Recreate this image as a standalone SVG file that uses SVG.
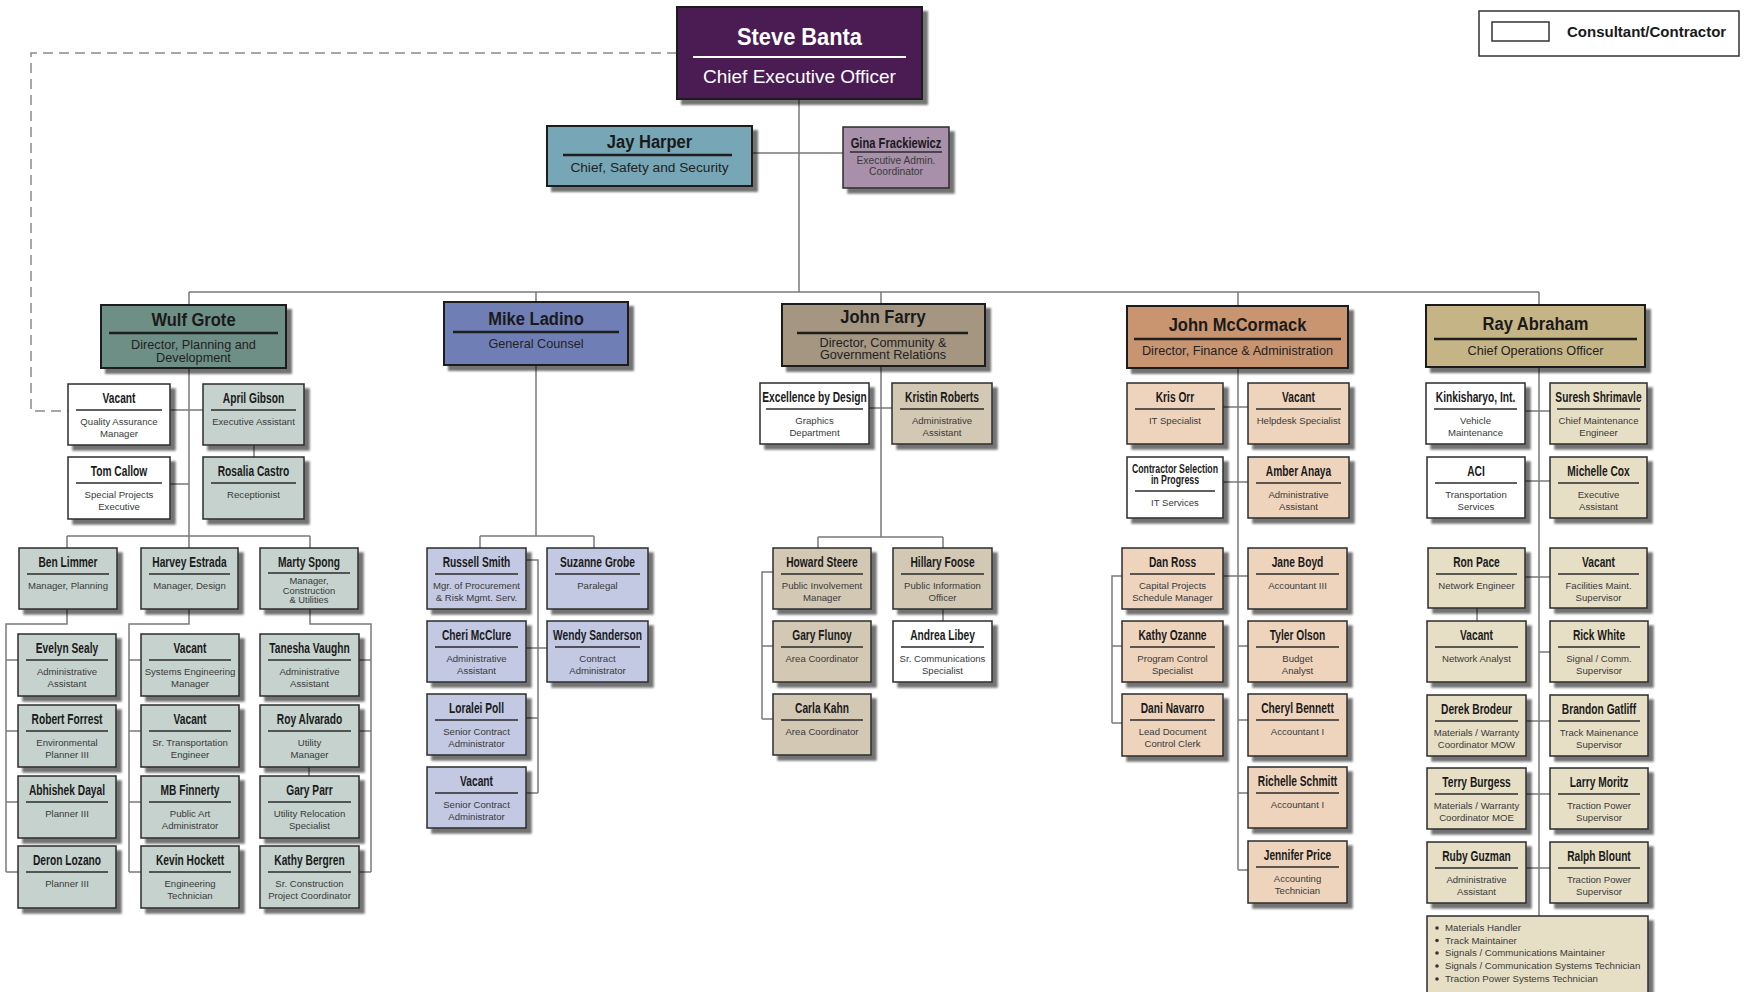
<svg xmlns="http://www.w3.org/2000/svg" width="1744" height="992" viewBox="0 0 1744 992">
<defs>
<filter id="sh" x="-10%" y="-10%" width="130%" height="140%">
<feGaussianBlur in="SourceAlpha" stdDeviation="1.3"/>
<feOffset dx="5" dy="5" result="o"/>
<feComponentTransfer><feFuncA type="linear" slope="0.55"/></feComponentTransfer>
<feMerge><feMergeNode/><feMergeNode in="SourceGraphic"/></feMerge>
</filter>
</defs>
<style>
.bx{stroke:#2b2b2b;stroke-width:1.5;filter:url(#sh)}
.db{stroke-width:2;stroke:#1e1e1e}
.nm{font-family:"Liberation Sans",Arial,sans-serif;font-weight:700;font-size:14px;text-anchor:middle;fill:#1a1a1a}
.dn{font-size:19px}
.sb{font-family:"Liberation Sans",Arial,sans-serif;font-size:9.6px;text-anchor:middle;fill:#3a3a3a}
.ds{font-size:12.7px;fill:#222}
.sp{stroke:#2b2b2b;stroke-width:1.4}
.dsp{stroke:#1e1e1e;stroke-width:2.4}
.cn{stroke:#7a7a7a;stroke-width:1.5;fill:none}
.dash{stroke:#8a8a8a;stroke-width:1.5;fill:none;stroke-dasharray:10 6}
.w{fill:#ffffff}
.ceo{fill:#4c1e53}
.jay{fill:#77a6b6}
.gina{fill:#a890aa}
.wg{fill:#6e8f86}.wl{fill:#c5d2ce}
.mg{fill:#6f7eb6}.ml{fill:#c3c8e3}
.fg{fill:#a49681}.fl{fill:#d3c8b4}
.cg{fill:#c9956f}.cl{fill:#eed4bd}
.rg{fill:#c5b586}.rl{fill:#e7dfc5}
.lg{font-family:"Liberation Sans",Arial,sans-serif;font-weight:700;font-size:15px;fill:#1a1a1a}
.bl{font-family:"Liberation Sans",Arial,sans-serif;font-size:9.7px;fill:#3a3a3a}
</style>
<rect width="1744" height="992" fill="#ffffff"/>

<g id="connectors">
<path class="dash" d="M677 53H31V411H68"/>
<path class="cn" d="M799 99V292M752 153H843M189 292H1539M189 292V305M536 292V302M881 292V304M1238 292V306M1539 292V305"/>
<path class="cn" d="M189 368V536M170 410H203M170 484H189M254 445V457M67 536H310M67 536V548M189 536V548M310 536V548"/>
<path class="cn" d="M67 609V624H6V872M6 660H18M6 731H18M6 802H18M6 872H18"/>
<path class="cn" d="M189 609V624H129V872M129 660H141M129 731H141M129 802H141M129 872H141"/>
<path class="cn" d="M310 609V624H371V872M359 660H371M359 731H371M359 872H371M309 767V776"/>
<path class="cn" d="M536 365V536M480 536H594M480 536V548M594 536V548M526 560H538V793M526 648H547M526 718H538M526 793H538"/>
<path class="cn" d="M881 366V537M869 408H892M818 537H943M818 537V548M943 537V548M943 609V621M773 572H762V719M762 646H773M762 719H773"/>
<path class="cn" d="M1238 368V870M1223 407H1248M1223 482H1248M1223 576H1248M1122 576H1112V723M1112 646H1122M1112 723H1122M1238 646H1248M1238 720H1248M1238 793H1248M1238 870H1248"/>
<path class="cn" d="M1539 367V916M1525 411H1550M1525 481H1550M1525 577H1550M1477 608V621M1539 652H1550M1526 721H1550M1526 794H1550M1526 868H1550"/>
</g>

<g id="legend">
<rect x="1479" y="11" width="260" height="45" fill="#fff" stroke="#333" stroke-width="1.5"/>
<rect x="1492" y="22" width="57" height="19" fill="#fff" stroke="#333" stroke-width="1.5"/>
<text class="lg" x="1567" y="37">Consultant/Contractor</text>
</g>

<g id="steve-banta">
<rect class="bx db ceo" x="677" y="7" width="245" height="92"/>
<text class="nm" style="font-size:23px;fill:#fff" transform="translate(799.5 45) scale(.95 1)">Steve Banta</text>
<line x1="693" y1="57" x2="906" y2="57" stroke="#fff" stroke-width="2"/>
<text class="sb" style="font-size:19px;fill:#fff" x="799.5" y="83">Chief Executive Officer</text>
</g>

<g id="jay-harper">
<rect class="bx db jay" x="547" y="126" width="205" height="60"/>
<text class="nm dn" transform="translate(649.5 148) scale(.87 1)">Jay Harper</text>
<line class="dsp" x1="563" y1="155" x2="732" y2="155"/>
<text class="sb" style="font-size:13.7px;fill:#222" x="649.5" y="172">Chief, Safety and Security</text>
</g>

<g id="gina-frackiewicz">
<rect class="bx gina" x="843" y="127" width="106" height="61"/>
<text class="nm" style="font-size:15px" transform="translate(896 148) scale(.745 1)">Gina Frackiewicz</text>
<line class="sp" x1="850" y1="152" x2="942" y2="152"/>
<text class="sb" style="font-size:10.3px" x="896" y="164">Executive Admin.</text>
<text class="sb" style="font-size:10.3px" x="896" y="175">Coordinator</text>
</g>

<!-- Wulf Grote -->
<g id="wulf-grote">
<rect class="bx db wg" x="101" y="305" width="185" height="63"/>
<text class="nm dn" transform="translate(193.5 326) scale(.87 1)">Wulf Grote</text>
<line class="dsp" x1="109" y1="333" x2="278" y2="333"/>
<text class="sb ds" x="193.5" y="349">Director, Planning and</text>
<text class="sb ds" x="193.5" y="362">Development</text>
</g>
<g id="vacant-qa">
<rect class="bx w" x="68" y="384" width="102" height="61"/>
<text class="nm" transform="translate(119 403) scale(.73 1)">Vacant</text>
<line class="sp" x1="76" y1="410" x2="162" y2="410"/>
<text class="sb" x="119" y="425">Quality Assurance</text>
<text class="sb" x="119" y="437">Manager</text>
</g>
<g id="april-gibson">
<rect class="bx wl" x="203" y="384" width="101" height="61"/>
<text class="nm" transform="translate(253.5 403) scale(.73 1)">April Gibson</text>
<line class="sp" x1="211" y1="410" x2="296" y2="410"/>
<text class="sb" x="253.5" y="425">Executive Assistant</text>
</g>
<g id="tom-callow">
<rect class="bx w" x="68" y="457" width="102" height="62"/>
<text class="nm" transform="translate(119 476) scale(.73 1)">Tom Callow</text>
<line class="sp" x1="76" y1="483" x2="162" y2="483"/>
<text class="sb" x="119" y="498">Special Projects</text>
<text class="sb" x="119" y="510">Executive</text>
</g>
<g id="rosalia-castro">
<rect class="bx wl" x="203" y="457" width="101" height="62"/>
<text class="nm" transform="translate(253.5 476) scale(.73 1)">Rosalia Castro</text>
<line class="sp" x1="211" y1="483" x2="296" y2="483"/>
<text class="sb" x="253.5" y="498">Receptionist</text>
</g>
<g id="ben-limmer">
<rect class="bx wl" x="19" y="548" width="98" height="61"/>
<text class="nm" transform="translate(68 567) scale(.73 1)">Ben Limmer</text>
<line class="sp" x1="27" y1="574" x2="109" y2="574"/>
<text class="sb" x="68" y="589">Manager, Planning</text>
</g>
<g id="harvey-estrada">
<rect class="bx wl" x="141" y="548" width="97" height="61"/>
<text class="nm" transform="translate(189.5 567) scale(.73 1)">Harvey Estrada</text>
<line class="sp" x1="149" y1="574" x2="230" y2="574"/>
<text class="sb" x="189.5" y="589">Manager, Design</text>
</g>
<g id="marty-spong">
<rect class="bx wl" x="260" y="548" width="98" height="61"/>
<text class="nm" transform="translate(309 567) scale(.73 1)">Marty Spong</text>
<line class="sp" x1="268" y1="573" x2="350" y2="573"/>
<text class="sb" style="font-size:9.4px" x="309" y="584">Manager,</text>
<text class="sb" style="font-size:9.4px" x="309" y="594">Construction</text>
<text class="sb" style="font-size:9.4px" x="309" y="603">&amp; Utilities</text>
</g>
<g id="evelyn-sealy">
<rect class="bx wl" x="18" y="634" width="98" height="62"/>
<text class="nm" transform="translate(67 653) scale(.73 1)">Evelyn Sealy</text>
<line class="sp" x1="26" y1="660" x2="108" y2="660"/>
<text class="sb" x="67" y="675">Administrative</text>
<text class="sb" x="67" y="687">Assistant</text>
</g>
<g id="robert-forrest">
<rect class="bx wl" x="18" y="705" width="98" height="62"/>
<text class="nm" transform="translate(67 724) scale(.73 1)">Robert Forrest</text>
<line class="sp" x1="26" y1="731" x2="108" y2="731"/>
<text class="sb" x="67" y="746">Environmental</text>
<text class="sb" x="67" y="758">Planner III</text>
</g>
<g id="abhishek-dayal">
<rect class="bx wl" x="18" y="776" width="98" height="62"/>
<text class="nm" transform="translate(67 795) scale(.73 1)">Abhishek Dayal</text>
<line class="sp" x1="26" y1="802" x2="108" y2="802"/>
<text class="sb" x="67" y="817">Planner III</text>
</g>
<g id="deron-lozano">
<rect class="bx wl" x="18" y="846" width="98" height="62"/>
<text class="nm" transform="translate(67 865) scale(.73 1)">Deron Lozano</text>
<line class="sp" x1="26" y1="872" x2="108" y2="872"/>
<text class="sb" x="67" y="887">Planner III</text>
</g>
<g id="vacant-sys-eng">
<rect class="bx wl" x="141" y="634" width="98" height="62"/>
<text class="nm" transform="translate(190 653) scale(.73 1)">Vacant</text>
<line class="sp" x1="149" y1="660" x2="231" y2="660"/>
<text class="sb" x="190" y="675">Systems Engineering</text>
<text class="sb" x="190" y="687">Manager</text>
</g>
<g id="vacant-transport">
<rect class="bx wl" x="141" y="705" width="98" height="62"/>
<text class="nm" transform="translate(190 724) scale(.73 1)">Vacant</text>
<line class="sp" x1="149" y1="731" x2="231" y2="731"/>
<text class="sb" x="190" y="746">Sr. Transportation</text>
<text class="sb" x="190" y="758">Engineer</text>
</g>
<g id="mb-finnerty">
<rect class="bx wl" x="141" y="776" width="98" height="62"/>
<text class="nm" transform="translate(190 795) scale(.73 1)">MB Finnerty</text>
<line class="sp" x1="149" y1="802" x2="231" y2="802"/>
<text class="sb" x="190" y="817">Public Art</text>
<text class="sb" x="190" y="829">Administrator</text>
</g>
<g id="kevin-hockett">
<rect class="bx wl" x="141" y="846" width="98" height="62"/>
<text class="nm" transform="translate(190 865) scale(.73 1)">Kevin Hockett</text>
<line class="sp" x1="149" y1="872" x2="231" y2="872"/>
<text class="sb" x="190" y="887">Engineering</text>
<text class="sb" x="190" y="899">Technician</text>
</g>
<g id="tanesha-vaughn">
<rect class="bx wl" x="260" y="634" width="99" height="62"/>
<text class="nm" transform="translate(309.5 653) scale(.73 1)">Tanesha Vaughn</text>
<line class="sp" x1="268" y1="660" x2="351" y2="660"/>
<text class="sb" x="309.5" y="675">Administrative</text>
<text class="sb" x="309.5" y="687">Assistant</text>
</g>
<g id="roy-alvarado">
<rect class="bx wl" x="260" y="705" width="99" height="62"/>
<text class="nm" transform="translate(309.5 724) scale(.73 1)">Roy Alvarado</text>
<line class="sp" x1="268" y1="731" x2="351" y2="731"/>
<text class="sb" x="309.5" y="746">Utility</text>
<text class="sb" x="309.5" y="758">Manager</text>
</g>
<g id="gary-parr">
<rect class="bx wl" x="260" y="776" width="99" height="62"/>
<text class="nm" transform="translate(309.5 795) scale(.73 1)">Gary Parr</text>
<line class="sp" x1="268" y1="802" x2="351" y2="802"/>
<text class="sb" x="309.5" y="817">Utility Relocation</text>
<text class="sb" x="309.5" y="829">Specialist</text>
</g>
<g id="kathy-bergren">
<rect class="bx wl" x="260" y="846" width="99" height="62"/>
<text class="nm" transform="translate(309.5 865) scale(.73 1)">Kathy Bergren</text>
<line class="sp" x1="268" y1="872" x2="351" y2="872"/>
<text class="sb" x="309.5" y="887">Sr. Construction</text>
<text class="sb" x="309.5" y="899">Project Coordinator</text>
</g>

<!-- Mike Ladino -->
<g id="mike-ladino">
<rect class="bx db mg" x="444" y="302" width="184" height="63"/>
<text class="nm dn" transform="translate(536 325) scale(.87 1)">Mike Ladino</text>
<line class="dsp" x1="453" y1="332" x2="619" y2="332"/>
<text class="sb ds" x="536" y="348">General Counsel</text>
</g>
<g id="russell-smith">
<rect class="bx ml" x="427" y="548" width="99" height="61"/>
<text class="nm" transform="translate(476.5 567) scale(.73 1)">Russell Smith</text>
<line class="sp" x1="435" y1="574" x2="518" y2="574"/>
<text class="sb" x="476.5" y="589">Mgr. of Procurement</text>
<text class="sb" x="476.5" y="601">&amp; Risk Mgmt. Serv.</text>
</g>
<g id="suzanne-grobe">
<rect class="bx ml" x="547" y="548" width="101" height="61"/>
<text class="nm" transform="translate(597.5 567) scale(.73 1)">Suzanne Grobe</text>
<line class="sp" x1="555" y1="574" x2="640" y2="574"/>
<text class="sb" x="597.5" y="589">Paralegal</text>
</g>
<g id="cheri-mcclure">
<rect class="bx ml" x="427" y="621" width="99" height="61"/>
<text class="nm" transform="translate(476.5 640) scale(.73 1)">Cheri McClure</text>
<line class="sp" x1="435" y1="647" x2="518" y2="647"/>
<text class="sb" x="476.5" y="662">Administrative</text>
<text class="sb" x="476.5" y="674">Assistant</text>
</g>
<g id="wendy-sanderson">
<rect class="bx ml" x="547" y="621" width="101" height="61"/>
<text class="nm" transform="translate(597.5 640) scale(.73 1)">Wendy Sanderson</text>
<line class="sp" x1="555" y1="647" x2="640" y2="647"/>
<text class="sb" x="597.5" y="662">Contract</text>
<text class="sb" x="597.5" y="674">Administrator</text>
</g>
<g id="loralei-poll">
<rect class="bx ml" x="427" y="694" width="99" height="61"/>
<text class="nm" transform="translate(476.5 713) scale(.73 1)">Loralei Poll</text>
<line class="sp" x1="435" y1="720" x2="518" y2="720"/>
<text class="sb" x="476.5" y="735">Senior Contract</text>
<text class="sb" x="476.5" y="747">Administrator</text>
</g>
<g id="vacant-sr-contract">
<rect class="bx ml" x="427" y="767" width="99" height="61"/>
<text class="nm" transform="translate(476.5 786) scale(.73 1)">Vacant</text>
<line class="sp" x1="435" y1="793" x2="518" y2="793"/>
<text class="sb" x="476.5" y="808">Senior Contract</text>
<text class="sb" x="476.5" y="820">Administrator</text>
</g>

<!-- John Farry -->
<g id="john-farry">
<rect class="bx db fg" x="782" y="304" width="203" height="62"/>
<text class="nm dn" transform="translate(883 323) scale(.87 1)">John Farry</text>
<line class="dsp" x1="797" y1="333" x2="968" y2="333"/>
<text class="sb ds" x="883" y="347">Director, Community &amp;</text>
<text class="sb ds" x="883" y="359">Government Relations</text>
</g>
<g id="excellence-by-design">
<rect class="bx w" x="760" y="383" width="109" height="61"/>
<text class="nm" transform="translate(814.5 402) scale(.73 1)">Excellence by Design</text>
<line class="sp" x1="766" y1="409" x2="863" y2="409"/>
<text class="sb" x="814.5" y="424">Graphics</text>
<text class="sb" x="814.5" y="436">Department</text>
</g>
<g id="kristin-roberts">
<rect class="bx fl" x="892" y="383" width="100" height="61"/>
<text class="nm" transform="translate(942 402) scale(.73 1)">Kristin Roberts</text>
<line class="sp" x1="900" y1="409" x2="984" y2="409"/>
<text class="sb" x="942" y="424">Administrative</text>
<text class="sb" x="942" y="436">Assistant</text>
</g>
<g id="howard-steere">
<rect class="bx fl" x="773" y="548" width="98" height="61"/>
<text class="nm" transform="translate(822 567) scale(.73 1)">Howard Steere</text>
<line class="sp" x1="781" y1="574" x2="863" y2="574"/>
<text class="sb" x="822" y="589">Public Involvement</text>
<text class="sb" x="822" y="601">Manager</text>
</g>
<g id="hillary-foose">
<rect class="bx fl" x="893" y="548" width="99" height="61"/>
<text class="nm" transform="translate(942.5 567) scale(.73 1)">Hillary Foose</text>
<line class="sp" x1="901" y1="574" x2="984" y2="574"/>
<text class="sb" x="942.5" y="589">Public Information</text>
<text class="sb" x="942.5" y="601">Officer</text>
</g>
<g id="andrea-libey">
<rect class="bx w" x="893" y="621" width="99" height="61"/>
<text class="nm" transform="translate(942.5 640) scale(.73 1)">Andrea Libey</text>
<line class="sp" x1="901" y1="647" x2="984" y2="647"/>
<text class="sb" x="942.5" y="662">Sr. Communications</text>
<text class="sb" x="942.5" y="674">Specialist</text>
</g>
<g id="gary-flunoy">
<rect class="bx fl" x="773" y="621" width="98" height="61"/>
<text class="nm" transform="translate(822 640) scale(.73 1)">Gary Flunoy</text>
<line class="sp" x1="781" y1="647" x2="863" y2="647"/>
<text class="sb" x="822" y="662">Area Coordinator</text>
</g>
<g id="carla-kahn">
<rect class="bx fl" x="773" y="694" width="98" height="61"/>
<text class="nm" transform="translate(822 713) scale(.73 1)">Carla Kahn</text>
<line class="sp" x1="781" y1="720" x2="863" y2="720"/>
<text class="sb" x="822" y="735">Area Coordinator</text>
</g>

<!-- John McCormack -->
<g id="john-mccormack">
<rect class="bx db cg" x="1127" y="306" width="221" height="62"/>
<text class="nm dn" transform="translate(1237.5 331) scale(.87 1)">John McCormack</text>
<line class="dsp" x1="1134" y1="339" x2="1341" y2="339"/>
<text class="sb ds" x="1237.5" y="355">Director, Finance &amp; Administration</text>
</g>
<g id="kris-orr">
<rect class="bx cl" x="1127" y="383" width="96" height="61"/>
<text class="nm" transform="translate(1175 402) scale(.73 1)">Kris Orr</text>
<line class="sp" x1="1135" y1="409" x2="1215" y2="409"/>
<text class="sb" x="1175" y="424">IT Specialist</text>
</g>
<g id="vacant-helpdesk">
<rect class="bx cl" x="1248" y="383" width="101" height="61"/>
<text class="nm" transform="translate(1298.5 402) scale(.73 1)">Vacant</text>
<line class="sp" x1="1256" y1="409" x2="1341" y2="409"/>
<text class="sb" x="1298.5" y="424">Helpdesk Specialist</text>
</g>
<g id="contractor-selection">
<rect class="bx w" x="1127" y="457" width="96" height="61"/>
<text class="nm" style="font-size:12px" transform="translate(1175 473) scale(.73 1)">Contractor Selection</text>
<text class="nm" style="font-size:12px" transform="translate(1175 484) scale(.73 1)">in Progress</text>
<line class="sp" x1="1135" y1="491" x2="1215" y2="491"/>
<text class="sb" x="1175" y="506">IT Services</text>
</g>
<g id="amber-anaya">
<rect class="bx cl" x="1248" y="457" width="101" height="61"/>
<text class="nm" transform="translate(1298.5 476) scale(.73 1)">Amber Anaya</text>
<line class="sp" x1="1256" y1="483" x2="1341" y2="483"/>
<text class="sb" x="1298.5" y="498">Administrative</text>
<text class="sb" x="1298.5" y="510">Assistant</text>
</g>
<g id="dan-ross">
<rect class="bx cl" x="1122" y="548" width="101" height="61"/>
<text class="nm" transform="translate(1172.5 567) scale(.73 1)">Dan Ross</text>
<line class="sp" x1="1130" y1="574" x2="1215" y2="574"/>
<text class="sb" x="1172.5" y="589">Capital Projects</text>
<text class="sb" x="1172.5" y="601">Schedule Manager</text>
</g>
<g id="jane-boyd">
<rect class="bx cl" x="1248" y="548" width="99" height="61"/>
<text class="nm" transform="translate(1297.5 567) scale(.73 1)">Jane Boyd</text>
<line class="sp" x1="1256" y1="574" x2="1339" y2="574"/>
<text class="sb" x="1297.5" y="589">Accountant III</text>
</g>
<g id="kathy-ozanne">
<rect class="bx cl" x="1122" y="621" width="101" height="61"/>
<text class="nm" transform="translate(1172.5 640) scale(.73 1)">Kathy Ozanne</text>
<line class="sp" x1="1130" y1="647" x2="1215" y2="647"/>
<text class="sb" x="1172.5" y="662">Program Control</text>
<text class="sb" x="1172.5" y="674">Specialist</text>
</g>
<g id="dani-navarro">
<rect class="bx cl" x="1122" y="694" width="101" height="62"/>
<text class="nm" transform="translate(1172.5 713) scale(.73 1)">Dani Navarro</text>
<line class="sp" x1="1130" y1="720" x2="1215" y2="720"/>
<text class="sb" x="1172.5" y="735">Lead Document</text>
<text class="sb" x="1172.5" y="747">Control Clerk</text>
</g>
<g id="tyler-olson">
<rect class="bx cl" x="1248" y="621" width="99" height="61"/>
<text class="nm" transform="translate(1297.5 640) scale(.73 1)">Tyler Olson</text>
<line class="sp" x1="1256" y1="647" x2="1339" y2="647"/>
<text class="sb" x="1297.5" y="662">Budget</text>
<text class="sb" x="1297.5" y="674">Analyst</text>
</g>
<g id="cheryl-bennett">
<rect class="bx cl" x="1248" y="694" width="99" height="62"/>
<text class="nm" transform="translate(1297.5 713) scale(.73 1)">Cheryl Bennett</text>
<line class="sp" x1="1256" y1="720" x2="1339" y2="720"/>
<text class="sb" x="1297.5" y="735">Accountant I</text>
</g>
<g id="richelle-schmitt">
<rect class="bx cl" x="1248" y="767" width="99" height="61"/>
<text class="nm" transform="translate(1297.5 786) scale(.73 1)">Richelle Schmitt</text>
<line class="sp" x1="1256" y1="793" x2="1339" y2="793"/>
<text class="sb" x="1297.5" y="808">Accountant I</text>
</g>
<g id="jennifer-price">
<rect class="bx cl" x="1248" y="841" width="99" height="62"/>
<text class="nm" transform="translate(1297.5 860) scale(.73 1)">Jennifer Price</text>
<line class="sp" x1="1256" y1="867" x2="1339" y2="867"/>
<text class="sb" x="1297.5" y="882">Accounting</text>
<text class="sb" x="1297.5" y="894">Technician</text>
</g>

<!-- Ray Abraham -->
<g id="ray-abraham">
<rect class="bx db rg" x="1426" y="305" width="219" height="62"/>
<text class="nm dn" transform="translate(1535.5 330) scale(.87 1)">Ray Abraham</text>
<line class="dsp" x1="1434" y1="339" x2="1637" y2="339"/>
<text class="sb ds" x="1535.5" y="355">Chief Operations Officer</text>
</g>
<g id="kinkisharyo">
<rect class="bx w" x="1426" y="383" width="99" height="61"/>
<text class="nm" transform="translate(1475.5 402) scale(.73 1)">Kinkisharyo, Int.</text>
<line class="sp" x1="1434" y1="409" x2="1517" y2="409"/>
<text class="sb" x="1475.5" y="424">Vehicle</text>
<text class="sb" x="1475.5" y="436">Maintenance</text>
</g>
<g id="suresh-shrimavle">
<rect class="bx rl" x="1550" y="383" width="97" height="61"/>
<text class="nm" transform="translate(1598.5 402) scale(.73 1)">Suresh Shrimavle</text>
<line class="sp" x1="1557" y1="409" x2="1640" y2="409"/>
<text class="sb" x="1598.5" y="424">Chief Maintenance</text>
<text class="sb" x="1598.5" y="436">Engineer</text>
</g>
<g id="aci">
<rect class="bx w" x="1427" y="457" width="98" height="61"/>
<text class="nm" transform="translate(1476 476) scale(.73 1)">ACI</text>
<line class="sp" x1="1435" y1="483" x2="1517" y2="483"/>
<text class="sb" x="1476" y="498">Transportation</text>
<text class="sb" x="1476" y="510">Services</text>
</g>
<g id="michelle-cox">
<rect class="bx rl" x="1550" y="457" width="97" height="61"/>
<text class="nm" transform="translate(1598.5 476) scale(.73 1)">Michelle Cox</text>
<line class="sp" x1="1558" y1="483" x2="1639" y2="483"/>
<text class="sb" x="1598.5" y="498">Executive</text>
<text class="sb" x="1598.5" y="510">Assistant</text>
</g>
<g id="ron-pace">
<rect class="bx rl" x="1428" y="548" width="97" height="60"/>
<text class="nm" transform="translate(1476.5 567) scale(.73 1)">Ron Pace</text>
<line class="sp" x1="1436" y1="574" x2="1517" y2="574"/>
<text class="sb" x="1476.5" y="589">Network Engineer</text>
</g>
<g id="vacant-facilities">
<rect class="bx rl" x="1550" y="548" width="97" height="60"/>
<text class="nm" transform="translate(1598.5 567) scale(.73 1)">Vacant</text>
<line class="sp" x1="1558" y1="574" x2="1639" y2="574"/>
<text class="sb" x="1598.5" y="589">Facilities Maint.</text>
<text class="sb" x="1598.5" y="601">Supervisor</text>
</g>
<g id="vacant-network-analyst">
<rect class="bx rl" x="1427" y="621" width="99" height="61"/>
<text class="nm" transform="translate(1476.5 640) scale(.73 1)">Vacant</text>
<line class="sp" x1="1435" y1="647" x2="1518" y2="647"/>
<text class="sb" x="1476.5" y="662">Network Analyst</text>
</g>
<g id="rick-white">
<rect class="bx rl" x="1550" y="621" width="98" height="61"/>
<text class="nm" transform="translate(1599 640) scale(.73 1)">Rick White</text>
<line class="sp" x1="1558" y1="647" x2="1640" y2="647"/>
<text class="sb" x="1599" y="662">Signal / Comm.</text>
<text class="sb" x="1599" y="674">Supervisor</text>
</g>
<g id="derek-brodeur">
<rect class="bx rl" x="1427" y="695" width="99" height="61"/>
<text class="nm" transform="translate(1476.5 714) scale(.73 1)">Derek Brodeur</text>
<line class="sp" x1="1435" y1="721" x2="1518" y2="721"/>
<text class="sb" x="1476.5" y="736">Materials / Warranty</text>
<text class="sb" x="1476.5" y="748">Coordinator MOW</text>
</g>
<g id="brandon-gatliff">
<rect class="bx rl" x="1550" y="695" width="98" height="61"/>
<text class="nm" transform="translate(1599 714) scale(.73 1)">Brandon Gatliff</text>
<line class="sp" x1="1558" y1="721" x2="1640" y2="721"/>
<text class="sb" x="1599" y="736">Track Mainenance</text>
<text class="sb" x="1599" y="748">Supervisor</text>
</g>
<g id="terry-burgess">
<rect class="bx rl" x="1427" y="768" width="99" height="61"/>
<text class="nm" transform="translate(1476.5 787) scale(.73 1)">Terry Burgess</text>
<line class="sp" x1="1435" y1="794" x2="1518" y2="794"/>
<text class="sb" x="1476.5" y="809">Materials / Warranty</text>
<text class="sb" x="1476.5" y="821">Coordinator MOE</text>
</g>
<g id="larry-moritz">
<rect class="bx rl" x="1550" y="768" width="98" height="61"/>
<text class="nm" transform="translate(1599 787) scale(.73 1)">Larry Moritz</text>
<line class="sp" x1="1558" y1="794" x2="1640" y2="794"/>
<text class="sb" x="1599" y="809">Traction Power</text>
<text class="sb" x="1599" y="821">Supervisor</text>
</g>
<g id="ruby-guzman">
<rect class="bx rl" x="1427" y="842" width="99" height="61"/>
<text class="nm" transform="translate(1476.5 861) scale(.73 1)">Ruby Guzman</text>
<line class="sp" x1="1435" y1="868" x2="1518" y2="868"/>
<text class="sb" x="1476.5" y="883">Administrative</text>
<text class="sb" x="1476.5" y="895">Assistant</text>
</g>
<g id="ralph-blount">
<rect class="bx rl" x="1550" y="842" width="98" height="61"/>
<text class="nm" transform="translate(1599 861) scale(.73 1)">Ralph Blount</text>
<line class="sp" x1="1558" y1="868" x2="1640" y2="868"/>
<text class="sb" x="1599" y="883">Traction Power</text>
<text class="sb" x="1599" y="895">Supervisor</text>
</g>
<g id="operations-staff">
<rect class="bx rl" x="1427" y="916" width="221" height="90"/>
<circle cx="1437" cy="928" r="1.8" fill="#333"/>
<circle cx="1437" cy="940.5" r="1.8" fill="#333"/>
<circle cx="1437" cy="953" r="1.8" fill="#333"/>
<circle cx="1437" cy="966" r="1.8" fill="#333"/>
<circle cx="1437" cy="979" r="1.8" fill="#333"/>
<text class="bl" x="1445" y="931">Materials Handler</text>
<text class="bl" x="1445" y="943.5">Track Maintainer</text>
<text class="bl" x="1445" y="956">Signals / Communications Maintainer</text>
<text class="bl" x="1445" y="969">Signals / Communication Systems Technician</text>
<text class="bl" x="1445" y="982">Traction Power Systems Technician</text>
</g>
</svg>
